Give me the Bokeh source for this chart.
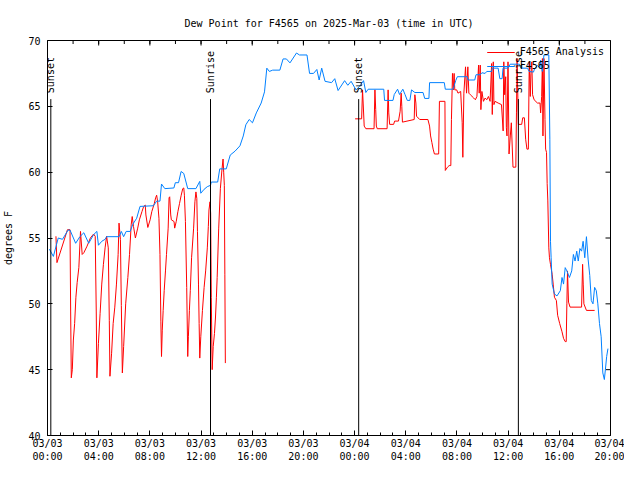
import math
from bokeh.plotting import figure
from bokeh.models import Range1d, FixedTicker, Legend, LegendItem
from bokeh.embed import file_html
from bokeh.resources import INLINE
from bokeh.core.properties import value

NaN = float("nan")

# Observations (F4565), hours since 03/03 00:00 UTC, dew point deg F
obs_hours = [0.15, 0.46, 0.84, 1.17, 1.61, 1.76, 2.2, 2.53, 2.84, 3.22, 3.6, 3.86, 3.98, 4.24, 4.5,
             4.62, 5.6, 5.77, 5.95, 6.15, 6.46, 6.67, 6.97, 7.23, 8.28, 8.53, 8.79, 8.91, 9.17, 9.88,
             9.99, 10.24, 10.44, 10.65, 10.96, 11.6, 11.9, 11.98, 12.24, 12.49, 12.74, 12.8, 13.3, 13.46,
             13.97, 14.28, 14.66, 15.04, 15.3, 15.5, 15.76, 16.02, 16.32, 16.7, 16.96, 17.14, 17.34, 17.6,
             18.16, 18.41, 18.67, 18.95, 19.46, 19.69, 20.28, 20.48, 20.79, 21.05, 21.23, 21.43, 21.69,
             22.2, 22.45, 22.71, 23.22, 23.47, 23.73, 24.11, 24.37, 24.7, 24.88, 25.06, 26.28, 26.34,
             27.0, 27.1, 27.36, 27.51, 27.77, 27.94, 28.12, 28.32, 28.45, 28.71, 29.35, 29.48, 29.81,
             29.86, 31.01, 31.09, 31.7, 31.9, 32.03, 32.8, 32.87, 33.39, 33.49, 33.82, 33.95, 34.2,
             34.33, 34.71, 34.76, 35.22, 35.35, 35.53, 35.6, 35.98, 36.16, 36.88, 37.0, 37.52, 37.64,
             37.98, 38.08, 38.29, 38.49, 38.54, 38.67, 38.8, 39.18, 39.26, 39.31, 39.36, 39.44, 39.62,
             39.82, 40.08, 40.21, 40.33, 40.46, 40.59, 40.79, 40.97, 41.1, 41.23, 41.36, 41.48, 41.61,
             41.74, 41.86, 41.99, 42.12, 42.25, 42.38, 42.5, 42.63, 42.76, 42.89, 43.01, 43.14, 43.27,
             43.4, 43.52, 43.6, 43.7, 43.8]
obs_dewpt = [54.15, 53.6, 55.0, 54.9, 55.6, 55.6, 54.6, 55.1, 55.4, 54.6, 55.25, 55.5, 54.45, 54.75, 54.9,
             55.1, 55.1, 55.5, 55.1, 55.5, 55.5, 56.05, 56.5, 57.4, 57.45, 57.8, 57.8, 59.1, 58.75, 58.8,
             59.2, 59.2, 60.05, 59.9, 58.75, 58.75, 59.3, 58.4, 58.7, 58.9, 59.0, 59.25, 59.25, 60.25,
             60.25, 61.3, 61.6, 62.0, 62.75, 63.6, 64.0, 63.75, 64.5, 65.25, 66.1, 67.9, 67.65, 67.75,
             67.75, 68.6, 68.6, 68.3, 69.05, 68.9, 68.9, 67.5, 67.5, 67.8, 67.0, 67.9, 66.9,
             66.8, 67.1, 66.2, 66.95, 66.6, 66.9, 66.25, 66.5, 66.95, 66.05, 66.3, 66.3, 65.45,
             65.45, 65.9, 66.3, 65.9, 66.3, 65.9, 65.45, 65.45, 66.25, 66.05, 66.05, 65.6, 65.6,
             66.8, 66.8, 66.3, 66.3, 66.95, 67.25, 67.25, 67.0, 67.0, 67.4, 67.4, 67.55, 67.5,
             67.65, 67.65, 67.9, 67.9, 67.1, 67.1, 67.9, 67.9, 68.2, 68.2, 67.9, 67.9, 67.65,
             67.6, 67.9, 68.1, 67.9, 68.5, 67.65, 68.9, 68.9, 62.5, 54.75, 53.5, 51.5, 50.75,
             50.6, 51.0, 52.0, 51.5, 52.75, 52.5, 52.0, 52.5, 53.75, 53.25, 54.0, 53.25, 54.2,
             54.0, 54.75, 53.5, 55.1, 53.4, 52.15, 50.25, 50.0, 51.25, 51.0, 50.0, 48.5, 47.5,
             44.75, 44.25, 45.0, 46.0, 46.6]

# Analysis (F4565 Analysis)
ana_hours = [0.66, 0.74, 1.56, 1.76, 1.81, 1.86, 1.94, 2.02, 2.12, 2.22, 2.32, 2.45, 2.58, 2.71, 2.84,
             3.09, 3.35, 3.6, 3.73, 3.81, 3.86, 3.98, 4.11, 4.24, 4.37, 4.5, 4.62, 4.75, 4.83, 4.88,
             5.01, 5.13, 5.26, 5.39, 5.52, 5.59, 5.7, 5.77, 5.85, 5.95, 6.11, 6.28, 6.41, 6.54, 6.62,
             6.72, 6.87, 7.05, 7.18, 7.38, 7.51, 7.64, 7.69, 7.84, 8.02, 8.15, 8.35, 8.45, 8.53, 8.61,
             8.71, 8.79, 8.86, 8.91, 8.97, 9.04, 9.12, 9.22, 9.3, 9.43, 9.5, 9.55, 9.63, 9.68, 9.89,
             9.94, 10.06, 10.19, 10.32, 10.45, 10.57, 10.65, 10.7, 10.78, 10.88, 10.96, 11.01, 11.09,
             11.16, 11.26, 11.42, 11.52, 11.6, 11.67, 11.72, 11.8, 11.85, 11.9, 11.98, 12.11, 12.24,
             12.36, 12.49, 12.57, 12.62, 12.7, 12.75, 12.8, 12.87, 12.95, 13.05, 13.13, 13.2, 13.26,
             13.38, 13.51, 13.64, 13.72, 13.77, 13.82, 13.86, 13.9, NaN,
             24.04, 24.55, 24.62, 24.67, 24.75, 24.88, 25.52, 25.59, 25.65, 25.7, 25.77, 26.54, 26.62,
             26.67, 26.74, 27.05, 27.13, 27.43, 27.56, 27.64, 27.69, 27.74, 28.66, 28.71, 28.79, 28.84,
             29.09, 29.73, 29.86, 29.94, 30.04, 30.14, 30.24, 30.57, 30.63, 31.06, 31.09, 31.26, 31.39,
             31.52, 31.57, 31.65, 31.72, 31.78, 31.83, 31.98, 32.08, 32.29, 32.41, 32.46, 32.54, 32.67,
             32.75, 32.85, 32.93, 33.05, 33.31, 33.44, 33.56, 33.69, 33.74, 33.82, 33.87, 33.95, 34.07,
             34.2, 34.33, 34.46, 34.59, 34.71, 34.76, 34.84, 34.89, 34.97, 35.22, 35.48, 35.61, 35.66,
             35.73, 35.81, 35.86, 35.91, 35.99, 36.07, 36.17, 36.25, 36.38, 36.6, 36.65, 36.7, 36.8,
             37.06, 37.14, 37.27, 37.37, 37.47, 37.58, 37.65, 37.73, 37.78, 37.85, 37.91, 38.03, 38.29,
             38.49, 38.54, 38.62, 38.68, 38.72, 38.8, 38.88, 38.93, 39.0, 39.05, 39.1, 39.18, 39.23,
             39.31, 39.44, 39.52, 39.62, 39.77, 39.87, 40.03, 40.21, 40.33, 40.46, 40.54, 40.59, 40.64,
             40.72, 40.84, 41.74, 41.82, 41.87, 41.92, 42.12, 42.76]
ana_dewpt = [55.13, 53.13, 55.63, 55.63, 49.38, 44.38, 45.0, 47.25, 48.5, 50.5, 51.63, 52.75, 55.5, 53.75, 53.88,
             54.38, 55.0, 55.3, 55.13, 49.38, 44.38, 47.0, 49.25, 51.5, 53.0, 54.25, 55.13, 54.25, 48.75, 44.5,
             46.25, 48.5, 49.75, 51.5, 53.75, 56.13, 54.88, 49.88, 44.75, 46.75, 50.0, 52.0, 53.75, 56.0, 56.63,
             55.88, 55.0, 55.75, 56.38, 57.0, 57.38, 57.5, 56.75, 55.8, 56.38, 57.0, 57.63, 58.05, 58.25, 57.75,
             56.5, 53.75, 48.63, 46.0, 48.0, 49.5, 51.0, 52.5, 53.75, 55.75, 58.05, 58.13, 56.75, 56.38, 56.25,
             55.75, 56.25, 57.0, 57.63, 58.25, 58.75, 58.8, 58.25, 56.25, 51.25, 46.0, 47.5, 49.5,
             51.0, 53.5, 55.75, 57.75, 58.5, 58.0, 55.5, 51.5, 48.5, 45.88, 47.5, 49.5, 51.25,
             52.5, 54.25, 55.88, 57.13, 57.75, 56.88, 50.5, 45.0, 46.75, 47.75, 49.0, 50.5, 52.0,
             55.75, 58.75, 60.25, 61.0, 60.0, 59.0, 52.25, 45.5, NaN,
             64.05, 64.05, 66.25, 65.25, 63.5, 63.3, 63.3, 66.25, 64.75, 63.5, 63.3, 63.3, 66.25,
             64.5, 63.63, 63.63, 63.88, 63.88, 64.63, 66.0, 65.0, 63.8, 64.0, 65.88, 65.25, 64.25,
             64.0, 64.0, 63.5, 62.75, 62.25, 61.75, 61.38, 61.38, 65.38, 65.38, 60.13, 60.38, 60.5,
             60.5, 64.0, 67.5, 66.25, 67.5, 66.25, 66.25, 66.0, 66.13, 63.75, 61.13, 66.0, 68.0,
             66.0, 68.0, 66.0, 65.88, 65.63, 65.5, 65.75, 68.13, 66.0, 68.13, 64.75, 66.13, 65.38,
             65.63, 65.5, 65.75, 65.38, 68.25, 64.38, 68.38, 65.13, 65.38, 65.25, 65.13, 63.13, 68.38,
             65.88, 67.25, 63.38, 62.75, 68.38, 61.38, 62.75, 63.75, 60.38, 60.38, 64.5, 68.63, 63.63,
             63.63, 64.13, 64.13, 62.5, 61.75, 61.75, 68.38, 65.75, 67.5, 68.38, 65.88, 65.5, 65.25,
             65.25, 64.5, 65.75, 68.63, 62.75, 68.63, 64.0, 61.75, 61.5, 59.13, 57.88, 54.25, 53.5,
             53.0, 52.25, 51.5, 50.5, 50.25, 49.13, 48.5, 47.88, 47.38, 47.13, 47.13, 50.0, 52.5,
             50.13, 49.75, 49.75, 53.0, 51.5, 50.0, 49.5, 49.5]

sun_labels = ["Sunset", "Sunrise", "Sunset", "Sunrise"]
sun_hours = [0.26, 12.74, 24.32, 36.8]

x_tick_hours = [0, 4, 8, 12, 16, 20, 24, 28, 32, 36, 40, 44]
x_tick_labels = ["03/03\n00:00", "03/03\n04:00", "03/03\n08:00", "03/03\n12:00", "03/03\n16:00",
                 "03/03\n20:00", "03/04\n00:00", "03/04\n04:00", "03/04\n08:00", "03/04\n12:00",
                 "03/04\n16:00", "03/04\n20:00"]
x_minor_hours = list(range(0, 45))
x_top_minor_hours = list(range(0, 45, 2))
y_ticks = [40, 45, 50, 55, 60, 65, 70]

FONT = "DejaVu Sans Mono"
X0, X1, Y0, Y1 = 0, 44, 40, 70

p = figure(width=624, height=464, output_backend="svg", toolbar_location=None,
           x_range=Range1d(X0, X1), y_range=Range1d(Y0, Y1),
           min_border_left=47, min_border_right=14, min_border_top=40, min_border_bottom=28)
p.title.text = "Dew Point for F4565 on 2025-Mar-03 (time in UTC)"
p.title.align = "center"
p.title.text_font = FONT
p.title.text_font_size = "10px"
p.title.text_font_style = "normal"
p.title.text_color = "black"
p.title.standoff = 24
p.outline_line_color = "black"
p.outline_line_width = 1
p.xgrid.visible = False
p.ygrid.visible = False
p.background_fill_color = "white"
p.border_fill_color = "white"

def style_axis(ax):
    ax.axis_line_color = None
    ax.major_tick_in = 5
    ax.major_tick_out = 0
    ax.minor_tick_in = 3
    ax.minor_tick_out = 0
    ax.major_tick_line_color = "black"
    ax.minor_tick_line_color = "black"
    ax.major_label_text_font = FONT
    ax.major_label_text_font_size = "10px"
    ax.major_label_text_color = "black"

xa = p.xaxis[0]
xa.ticker = FixedTicker(ticks=x_tick_hours, minor_ticks=x_minor_hours)
xa.major_label_overrides = {h: l for h, l in zip(x_tick_hours, x_tick_labels)}
style_axis(xa)
xa.major_label_standoff = 2

ya = p.yaxis[0]
ya.ticker = FixedTicker(ticks=y_ticks, minor_ticks=[])
style_axis(ya)
ya.major_label_standoff = 7
ya.axis_label = "degrees F"
ya.axis_label_text_font = FONT
ya.axis_label_text_font_size = "10px"
ya.axis_label_text_font_style = "normal"
ya.axis_label_text_color = "black"
ya.axis_label_standoff = 11

# mirrored tick marks on the top and right borders (centred dashes, half clipped by the frame)
p.scatter(x=x_tick_hours, y=[Y1] * len(x_tick_hours), marker="dash", angle=math.pi / 2, size=10,
          line_color="black", line_width=1)
p.scatter(x=x_top_minor_hours, y=[Y1] * len(x_top_minor_hours), marker="dash", angle=math.pi / 2, size=7,
          line_color="black", line_width=1)
p.scatter(x=[X1] * len(y_ticks), y=y_ticks, marker="dash", size=10, line_color="black", line_width=1)

r_ana = p.line(ana_hours, ana_dewpt, line_color="#ff0000", line_width=1)
r_obs = p.line(obs_hours, obs_dewpt, line_color="#0080ff", line_width=1)

p.segment(x0=sun_hours, y0=[Y0] * 4, x1=sun_hours, y1=[65.55] * 4, line_color="black", line_width=1)
p.text(x=sun_hours, y=[66.0] * 4, text=sun_labels, angle=math.pi / 2, text_align="left",
       text_baseline="middle", text_font=value(FONT), text_font_size="10px", text_color="black")

legend = Legend(items=[LegendItem(label="F4565 Analysis", renderers=[r_ana]),
                       LegendItem(label="F4565", renderers=[r_obs])],
                location="top_right", border_line_color=None, background_fill_alpha=0,
                label_text_font=FONT, label_text_font_size="10px", label_text_color="black",
                glyph_width=28, glyph_height=10, label_height=10, spacing=3, padding=2, margin=6)
p.add_layout(legend)

open("out.html", "w").write(file_html(p, INLINE))
